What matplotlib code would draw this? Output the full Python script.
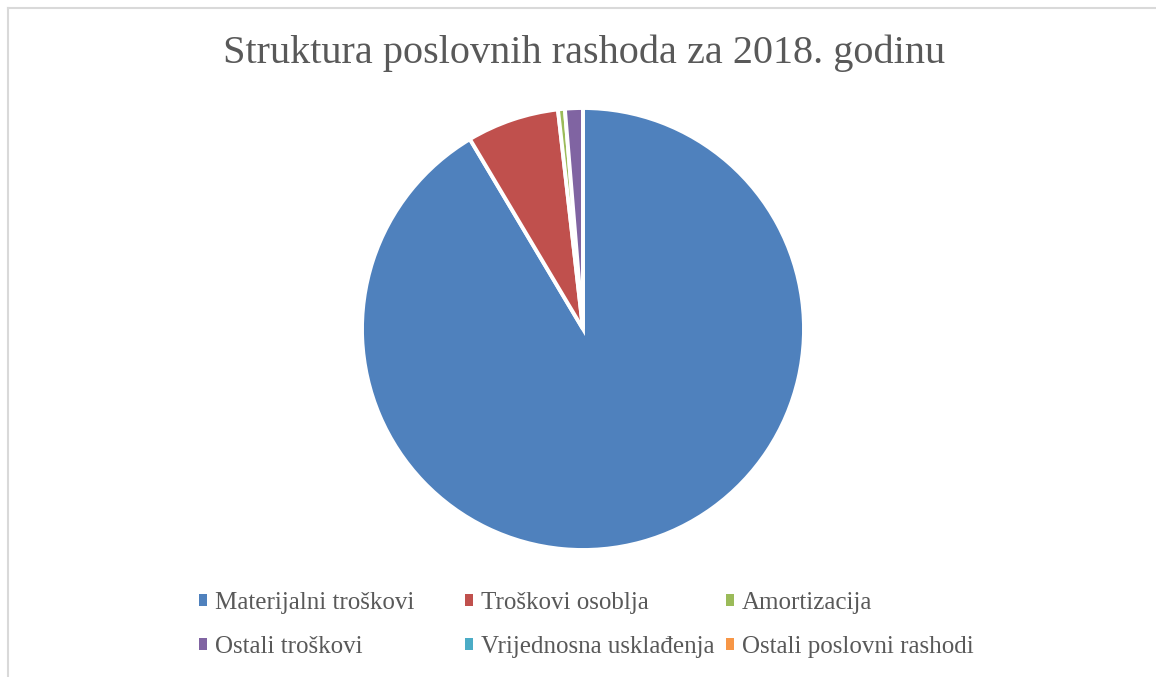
import matplotlib.pyplot as plt
from matplotlib.patches import Patch
from matplotlib.lines import Line2D

kategorije = ['Materijalni troškovi', 'Troškovi osoblja', 'Amortizacija',
              'Ostali troškovi', 'Vrijednosna usklađenja', 'Ostali poslovni rashodi']
udio = [90.9, 6.7, 0.5, 1.3, 0.0, 0.0]
boje = ['#4F81BD', '#C0504D', '#9BBB59', '#8064A2', '#4BACC6', '#F79646']

plt.rcParams['font.family'] = ['Liberation Serif', 'DejaVu Serif']
siva = '#595959'

fig = plt.figure(figsize=(11.56, 6.77), dpi=100)
# chart frame: only top and left edges visible (cropped screenshot)
okvir = dict(transform=fig.transFigure, color='#D9D9D9', linewidth=1.5)
fig.lines.append(Line2D([8 / 1156, 1], [1 - 8 / 677, 1 - 8 / 677], **okvir))
fig.lines.append(Line2D([8 / 1156, 8 / 1156], [0, 1 - 8 / 677], **okvir))

# pie centre ~ (583, 329) px, radius ~220 px
ax = fig.add_axes([(583 - 221) / 1156, (348 - 221) / 677, 442 / 1156, 442 / 677])
ax.pie(udio, colors=boje, startangle=90, counterclock=False, radius=1,
       wedgeprops=dict(edgecolor='white', linewidth=2.8))
ax.set_xlim(-1.0, 1.0)
ax.set_ylim(-1.0, 1.0)
ax.set_aspect('equal')
ax.axis('off')

fig.text(584 / 1156, 1 - 53 / 677, 'Struktura poslovnih rashoda za 2018. godinu',
         ha='center', va='center', fontsize=29, color=siva)

# legend: three columns, filled row by row like Excel
stupci = [[0, 3], [1, 4], [2, 5]]
x_stupca = [199, 465, 726]
for idx, x in zip(stupci, x_stupca):
    ruke = [Patch(facecolor=boje[i], edgecolor='none') for i in idx]
    imena = [kategorije[i] for i in idx]
    fig.legend(ruke, imena, loc='center left', bbox_to_anchor=(x / 1156, 1 - 625 / 677),
               frameon=False, fontsize=18, labelcolor=siva, borderpad=0, borderaxespad=0,
               handlelength=0.33, handleheight=0.33, handletextpad=0.3,
               labelspacing=0.88)

fig.savefig('out.png', dpi=100)
